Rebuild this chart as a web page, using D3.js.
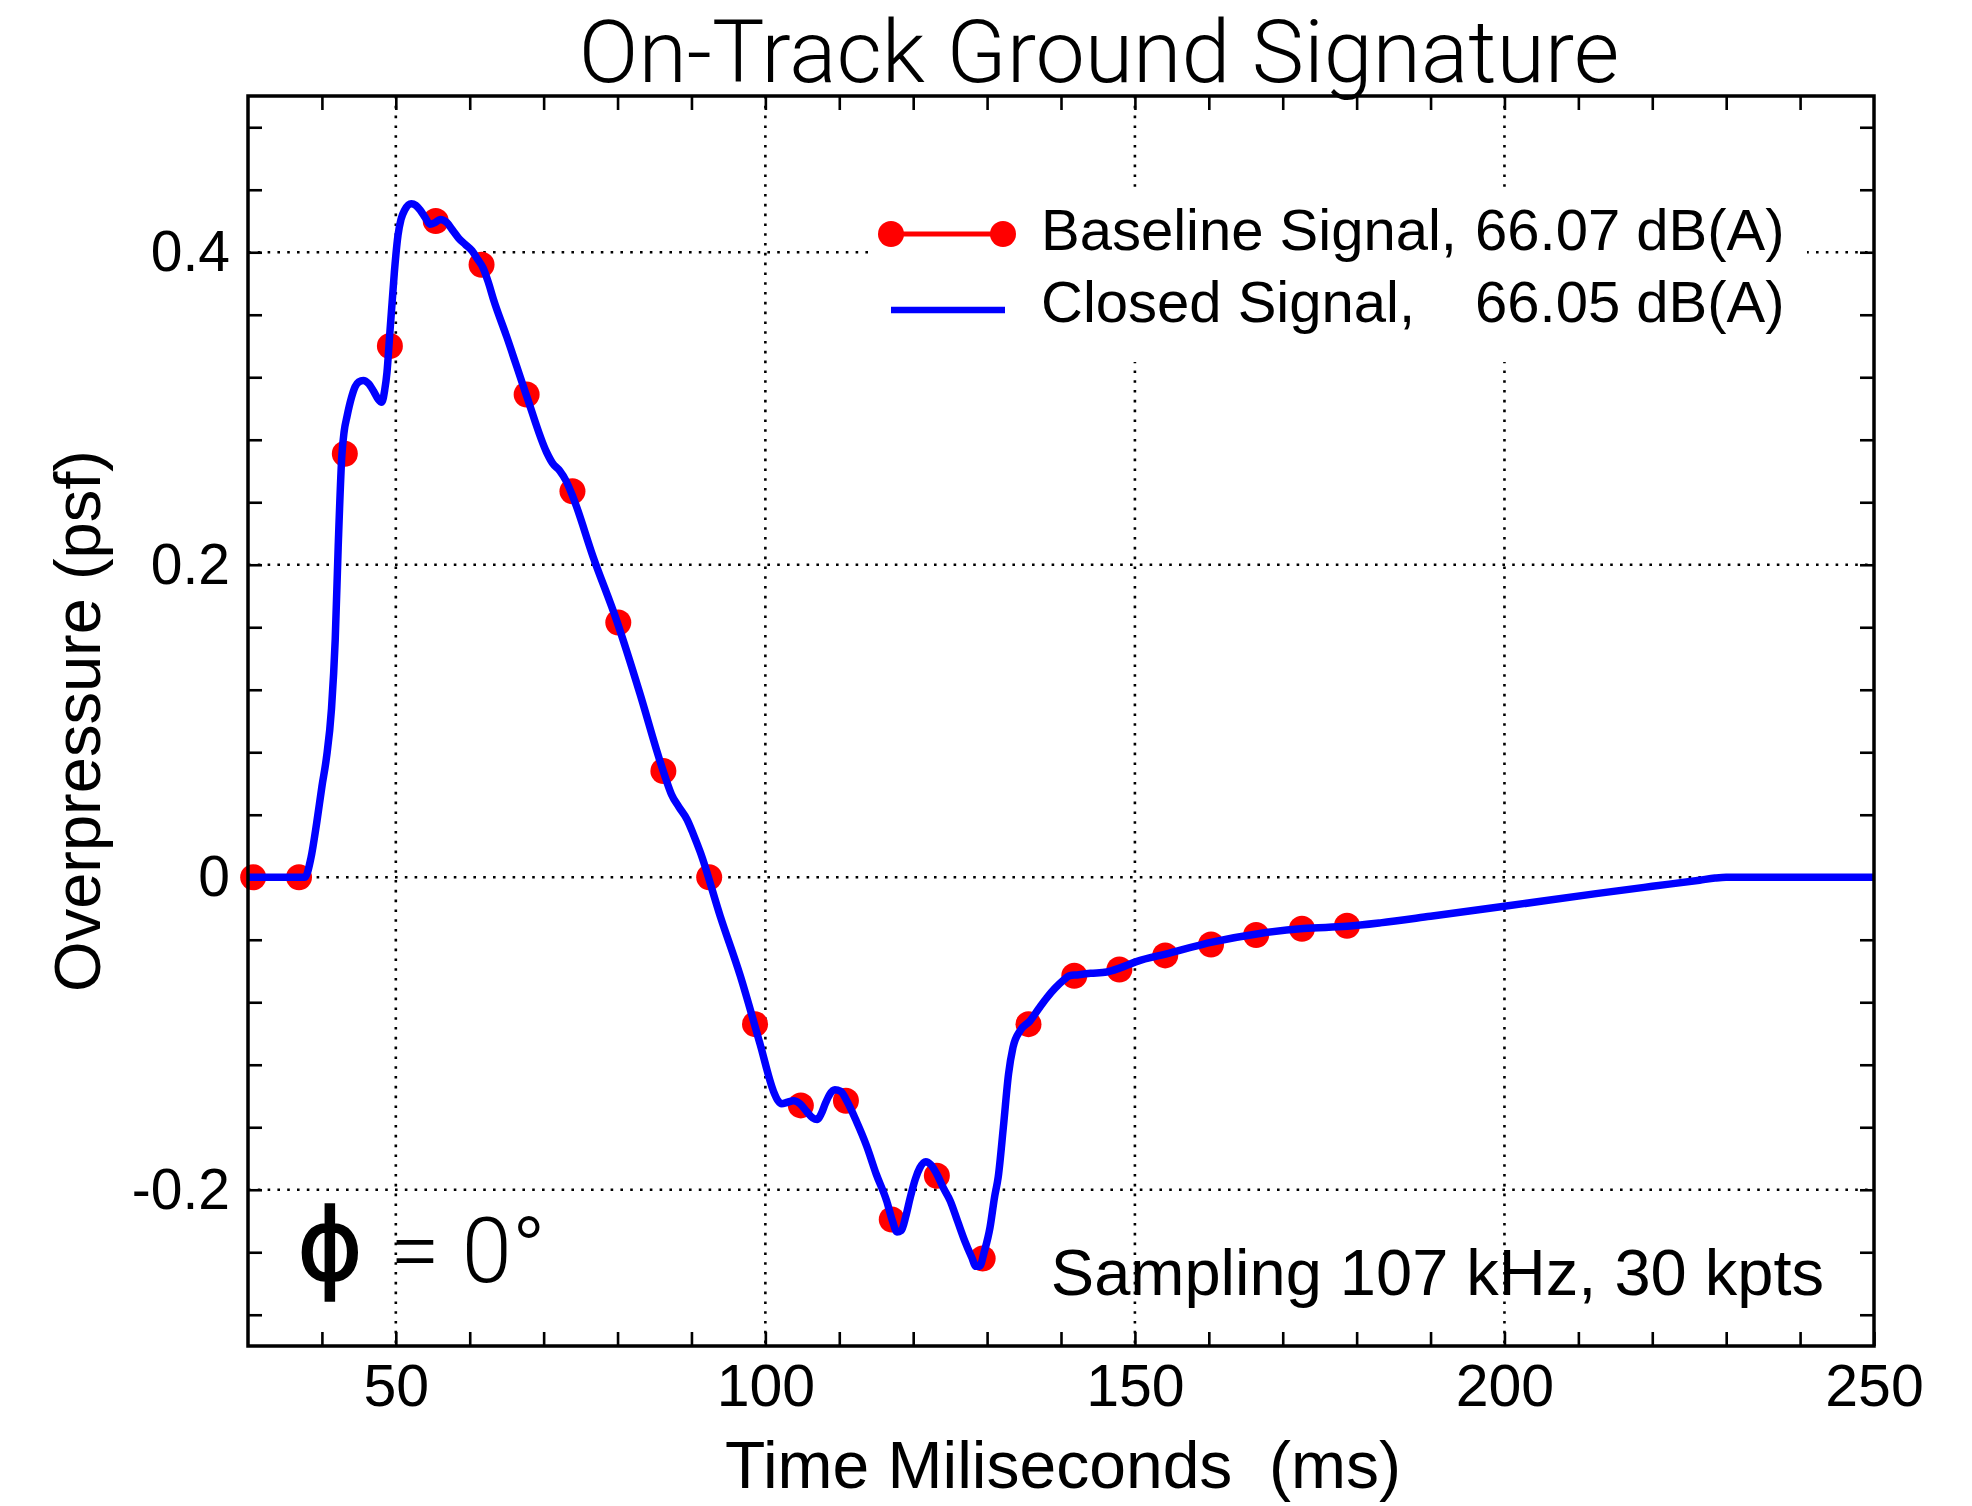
<!DOCTYPE html>
<html><head><meta charset="utf-8">
<script src="https://cdn.jsdelivr.net/npm/d3@7"></script>
<style>
body{margin:0;background:#fff}
text{font-family:"Liberation Sans",Arial,Helvetica,sans-serif;fill:#000}
.light{font-family:Roboto,"Liberation Sans",Arial,sans-serif;font-weight:300}
</style>
</head><body>
<svg id="c" width="1972" height="1506"></svg>
<script>
// ---- data ----
const xTicks = [50, 100, 150, 200, 250];
const xTickLabels = ["50", "100", "150", "200", "250"];
const yTicks = [-0.2, 0, 0.2, 0.4];
const yTickLabels = ["-0.2", "0", "0.2", "0.4"];

// Closed signal (dense trace), time in ms
const curveT = [30,37.7,38.5,39.3,40.0,40.6,41.3,41.8,42.2,42.7,43.0,43.4,44.0,44.5,45.0,45.6,46.3,47.0,47.6,48.1,48.5,48.8,49.2,49.5,49.8,50.3,50.7,51.2,52.1,52.7,53.3,54.0,54.6,55.3,56.0,56.9,57.7,58.5,59.4,60.3,61.0,61.8,62.5,63.2,65.0,67.7,70.4,71.2,72.2,73.0,74.0,76.7,79.9,83.0,85.7,86.6,87.3,88.3,89.4,90.3,91.2,93.9,96.6,99.3,101.1,101.7,102.2,103.0,103.8,104.7,105.6,106.4,107.0,107.6,108.1,108.7,109.4,110.2,111.0,112.3,113.7,115.0,116.4,117.2,117.8,118.4,119.0,119.6,120.3,120.9,121.7,122.4,123.2,124.1,125.0,126.0,127.0,127.9,128.5,129.0,129.6,130.4,131.0,131.5,132.2,132.9,133.5,134.5,135.8,137.0,138.1,139.2,140.3,141.2,142.1,144.0,146.2,148.0,150.2,154.3,160.6,166.9,172.8,178.7,183.2,190,200,212.4,220,226.4,228.5,230,240,250];
const closedP = [0,0,0.012,0.035,0.058,0.076,0.108,0.152,0.211,0.270,0.285,0.295,0.307,0.314,0.317,0.318,0.316,0.311,0.306,0.304,0.312,0.323,0.349,0.368,0.387,0.411,0.421,0.427,0.431,0.430,0.427,0.422,0.418,0.419,0.421,0.419,0.414,0.409,0.405,0.401,0.396,0.390,0.381,0.370,0.346,0.308,0.272,0.265,0.260,0.254,0.243,0.205,0.164,0.118,0.075,0.062,0.053,0.045,0.037,0.027,0.016,-0.025,-0.063,-0.107,-0.137,-0.143,-0.145,-0.144,-0.143,-0.145,-0.150,-0.154,-0.155,-0.151,-0.145,-0.139,-0.136,-0.137,-0.143,-0.156,-0.172,-0.190,-0.207,-0.220,-0.227,-0.226,-0.217,-0.205,-0.193,-0.186,-0.182,-0.184,-0.190,-0.199,-0.207,-0.220,-0.233,-0.243,-0.249,-0.249,-0.240,-0.224,-0.205,-0.192,-0.160,-0.126,-0.109,-0.098,-0.092,-0.084,-0.077,-0.071,-0.066,-0.063,-0.0625,-0.0615,-0.0606,-0.058,-0.054,-0.049,-0.0414,-0.036,-0.0328,-0.0314,-0.0292,-0.025,-0.0186,-0.0105,-0.0058,-0.0019,-0.0005,0,0,0];

// Baseline signal markers
const markerT = [30.7,36.9,43.1,49.2,55.4,61.6,67.7,73.9,80.1,86.2,92.4,98.6,104.8,110.9,117.1,123.2,129.4,135.6,141.8,147.9,154.1,160.3,166.4,172.6,178.7];
const markerP = [0,0,0.271,0.340,0.420,0.392,0.309,0.247,0.163,0.068,0,-0.094,-0.146,-0.143,-0.219,-0.191,-0.244,-0.094,-0.063,-0.059,-0.050,-0.043,-0.037,-0.033,-0.031];

const seriesNames = ["Baseline Signal, ", "Closed Signal, "];
const seriesLevels = ["66.07 dB(A)", "66.05 dB(A)"];

// ---- chart ----
const svg = d3.select("#c");
svg.append("rect").attr("width",1972).attr("height",1506).attr("fill","#fff");
const L=248, R=1874, T=96, B=1346;
const x = d3.scaleLinear().domain([30,250]).range([L,R]);
const y = d3.scaleLinear().domain([-0.3,0.5]).range([B,T]);

// grid
const grid = svg.append("g").attr("stroke","#000").attr("stroke-width",2.6).attr("stroke-dasharray","2.6 7.2");
grid.selectAll("line.gx").data(xTicks.filter(v=>v<250)).join("line").attr("class","gx")
  .attr("x1",d=>x(d)).attr("x2",d=>x(d)).attr("y1",T).attr("y2",B);
grid.selectAll("line.gy").data(yTicks).join("line").attr("class","gy")
  .attr("y1",d=>y(d)).attr("y2",d=>y(d)).attr("x1",L).attr("x2",R);

// legend background
svg.append("rect").attr("x",870).attr("y",190).attr("width",937).attr("height",172).attr("fill","#fff");

// minor ticks
const minorX = d3.range(4,25).map(i=>i*10);
const minorY = d3.range(-7,13).map(i=>+(i*0.04).toFixed(2));
const xfmt = d=>{const k=xTicks.indexOf(d);return k>=0?xTickLabels[k]:"";};
const yfmt = d=>{const k=yTicks.findIndex(v=>Math.abs(v-d)<1e-9);return k>=0?yTickLabels[k]:"";};

function styleAxis(g, fs){
  g.select(".domain").remove();
  g.selectAll(".tick line").attr("stroke","#000").attr("stroke-width",2.6);
  g.selectAll(".tick text").attr("font-size",fs).attr("font-family",null).attr("fill","#000");
}
svg.append("g").attr("transform",`translate(0,${B})`)
  .call(d3.axisBottom(x).tickValues(minorX.concat([250])).tickSize(-14).tickPadding(18).tickFormat(xfmt))
  .call(g=>styleAxis(g,59));
svg.append("g").attr("transform",`translate(0,${T})`)
  .call(d3.axisTop(x).tickValues(minorX).tickSize(-14).tickFormat(""))
  .call(g=>styleAxis(g,10));
svg.append("g").attr("transform",`translate(${L},0)`)
  .call(d3.axisLeft(y).tickValues(minorY).tickSize(-14).tickPadding(18).tickFormat(yfmt))
  .call(g=>styleAxis(g,57));
svg.append("g").attr("transform",`translate(${R},0)`)
  .call(d3.axisRight(y).tickValues(minorY).tickSize(-14).tickFormat(""))
  .call(g=>styleAxis(g,10));

// data
const curve = curveT.map((t,i)=>[t,closedP[i]]);
const markers = markerT.map((t,i)=>[t,markerP[i]]);
const line = d3.line().x(d=>x(d[0])).y(d=>y(d[1])).curve(d3.curveMonotoneX);
svg.append("path").datum(curve).attr("d",line).attr("fill","none").attr("stroke","#ff0000").attr("stroke-width",5.5);
svg.selectAll("circle.m").data(markers).join("circle").attr("class","m")
  .attr("cx",d=>x(d[0])).attr("cy",d=>y(d[1])).attr("r",13).attr("fill","#ff0000");
svg.append("path").datum(curve).attr("d",line).attr("fill","none").attr("stroke","#0000ff").attr("stroke-width",7.5).attr("stroke-linejoin","round");

// frame
svg.append("rect").attr("x",L).attr("y",T).attr("width",R-L).attr("height",B-T)
  .attr("fill","none").attr("stroke","#000").attr("stroke-width",3.5);

// legend
const lg = svg.append("g");
lg.append("line").attr("x1",891).attr("x2",1003).attr("y1",234).attr("y2",234).attr("stroke","#ff0000").attr("stroke-width",5);
lg.selectAll("circle").data([891,1003]).join("circle").attr("cx",d=>d).attr("cy",234).attr("r",13).attr("fill","#ff0000");
lg.append("line").attr("x1",891).attr("x2",1005).attr("y1",310).attr("y2",310).attr("stroke","#0000ff").attr("stroke-width",6.5);
[250,322].forEach((yy,i)=>{
  lg.append("text").attr("x",1041).attr("y",yy).attr("font-size",58).text(seriesNames[i]);
  lg.append("text").attr("x",1475).attr("y",yy).attr("font-size",58).text(seriesLevels[i]);
});

// titles
svg.append("text").attr("class","light").attr("x",1099).attr("y",82).attr("text-anchor","middle").attr("font-size",88).text("On-Track Ground Signature");
svg.append("text").attr("x",1063).attr("y",1488).attr("text-anchor","middle").attr("font-size",66).style("white-space","pre").text("Time Miliseconds  (ms)");
svg.append("text").attr("transform","translate(100,721) rotate(-90)").attr("text-anchor","middle").attr("font-size",65).text("Overpressure (psf)");
svg.append("text").attr("x",1824).attr("y",1295).attr("text-anchor","end").attr("font-size",65).text("Sampling 107 kHz, 30 kpts");
svg.append("text").attr("x",330).attr("y",1280).attr("text-anchor","middle").attr("font-size",100)
  .attr("stroke","#000").attr("stroke-width",1.6).style("font-family","'DejaVu Sans'").text("\u03D5");
svg.append("text").attr("class","light").attr("x",390).attr("y",1282).attr("font-size",90).text("= 0\u00B0");
</script>
</body></html>
